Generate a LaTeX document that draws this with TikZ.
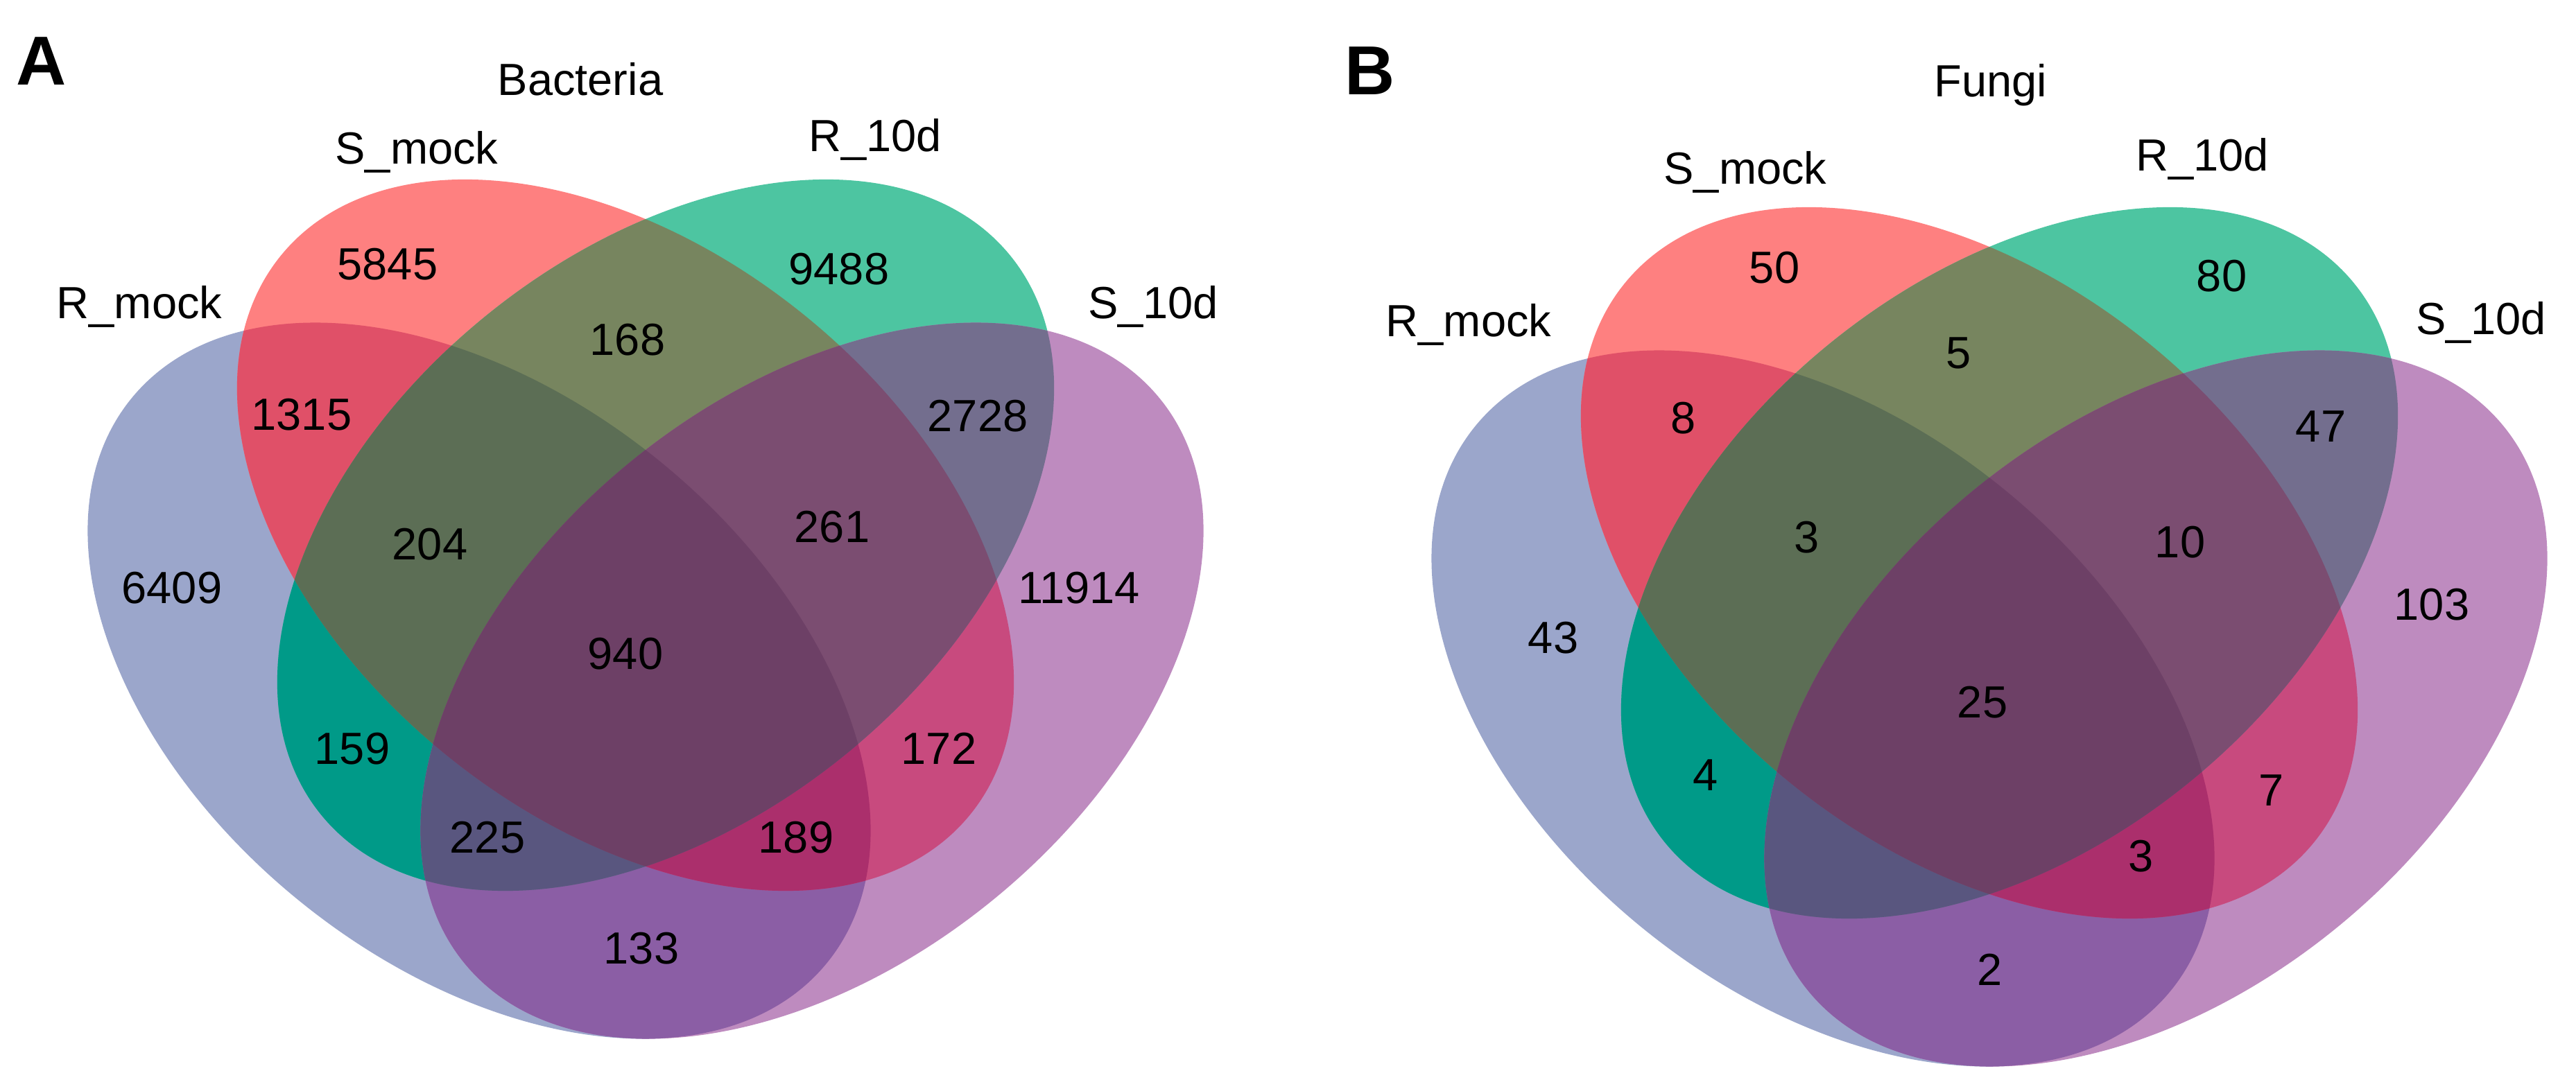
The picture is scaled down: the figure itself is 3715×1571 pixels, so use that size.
\documentclass[tikz,border=0pt]{standalone}
\usepackage{fontspec}
\setmainfont{Liberation Sans}
\definecolor{cB}{HTML}{9BA6CB}
\definecolor{cR}{HTML}{FE8080}
\definecolor{cG}{HTML}{4DC5A1}
\definecolor{cP}{HTML}{BE8BBF}
\definecolor{cBR}{HTML}{E05068}
\definecolor{cBG}{HTML}{009A88}
\definecolor{cBP}{HTML}{8B5EA5}
\definecolor{cRG}{HTML}{77855F}
\definecolor{cRP}{HTML}{C84A7E}
\definecolor{cGP}{HTML}{736E8E}
\definecolor{cBRG}{HTML}{5C6E55}
\definecolor{cBRP}{HTML}{AB2F6C}
\definecolor{cBGP}{HTML}{59567F}
\definecolor{cRGP}{HTML}{7B4D71}
\definecolor{cAll}{HTML}{6D4066}
\newcommand\vennregions{%
  \fill[cB] \EB; \fill[cR] \ER; \fill[cG] \EG; \fill[cP] \EP;
  \begin{scope}\clip \EB; \fill[cBR] \ER; \end{scope}
  \begin{scope}\clip \EB; \fill[cBG] \EG; \end{scope}
  \begin{scope}\clip \EB; \fill[cBP] \EP; \end{scope}
  \begin{scope}\clip \ER; \fill[cRG] \EG; \end{scope}
  \begin{scope}\clip \ER; \fill[cRP] \EP; \end{scope}
  \begin{scope}\clip \EG; \fill[cGP] \EP; \end{scope}
  \begin{scope}\clip \EB; \clip \ER; \fill[cBRG] \EG; \end{scope}
  \begin{scope}\clip \EB; \clip \ER; \fill[cBRP] \EP; \end{scope}
  \begin{scope}\clip \EB; \clip \EG; \fill[cBGP] \EP; \end{scope}
  \begin{scope}\clip \ER; \clip \EG; \fill[cRGP] \EP; \end{scope}
  \begin{scope}\clip \EB; \clip \ER; \clip \EG; \fill[cAll] \EP; \end{scope}%
}
\begin{document}
\begin{tikzpicture}[x=0.2pt, y=-0.2pt,
  num/.style={font=\fontsize{13pt}{15pt}\selectfont, inner sep=0pt, anchor=center},
  lab/.style={font=\fontsize{13pt}{15pt}\selectfont, inner sep=0pt, anchor=base},
  panel/.style={font=\fontsize{20pt}{22pt}\selectfont\bfseries, inner sep=0pt, anchor=base west}]
\useasboundingbox (0,0) rectangle (3715,1571);
% ---------- Panel A ----------
\def\EB{(691,982) circle[x radius=129.2pt, y radius=82pt, rotate=-39]}
\def\EP{(1171,982) circle[x radius=129.2pt, y radius=82pt, rotate=39]}
\def\ER{(902,772) circle[x radius=128pt, y radius=81.8pt, rotate=-39]}
\def\EG{(960,772) circle[x radius=128pt, y radius=81.8pt, rotate=39]}
\vennregions
\node[panel] (pA) at (22,123) {A};
\node[lab] (tA) at (837,138) {Bacteria};
\node[lab] (lA1) at (201,459) {R\_mock};
\node[lab] (lA2) at (601,237) {S\_mock};
\node[lab] (lA3) at (1262,219) {R\_10d};
\node[lab] (lA4) at (1663,459) {S\_10d};
\node[num] (a1) at (559,381) {5845};
\node[num] (a2) at (1210,388) {9488};
\node[num] (a3) at (905,490) {168};
\node[num] (a4) at (435,598) {1315};
\node[num] (a5) at (1410,600) {2728};
\node[num] (a6) at (620,785) {204};
\node[num] (a7) at (1200,760) {261};
\node[num] (a8) at (248,848) {6409};
\node[num] (a9) at (1556,848) {11914};
\node[num] (a10) at (902,943) {940};
\node[num] (a11) at (508,1080) {159};
\node[num] (a12) at (1354,1080) {172};
\node[num] (a13) at (703,1208) {225};
\node[num] (a14) at (1148,1208) {189};
\node[num] (a15) at (925,1368) {133};
% ---------- Panel B ----------
\def\EB{(2629,1022) circle[x radius=129.2pt, y radius=82pt, rotate=-39]}
\def\EP{(3109,1022) circle[x radius=129.2pt, y radius=82pt, rotate=39]}
\def\ER{(2840,812) circle[x radius=128pt, y radius=81.8pt, rotate=-39]}
\def\EG{(2898,812) circle[x radius=128pt, y radius=81.8pt, rotate=39]}
\vennregions
\node[panel] (pB) at (1938,137) {B};
\node[lab] (tB) at (2871,140) {Fungi};
\node[lab] (lB1) at (2118,485) {R\_mock};
\node[lab] (lB2) at (2517,265) {S\_mock};
\node[lab] (lB3) at (3176,247) {R\_10d};
\node[lab] (lB4) at (3578,482) {S\_10d};
\node[num] (b1) at (2559,386) {50};
\node[num] (b2) at (3204,398) {80};
\node[num] (b3) at (2825,509) {5};
\node[num] (b4) at (2428,603) {8};
\node[num] (b5) at (3347,615) {47};
\node[num] (b6) at (2606,775) {3};
\node[num] (b7) at (3144,782) {10};
\node[num] (b8) at (2240,920) {43};
\node[num] (b9) at (3507,872) {103};
\node[num] (b10) at (2859,1013) {25};
\node[num] (b11) at (2460,1118) {4};
\node[num] (b12) at (3276,1140) {7};
\node[num] (b13) at (3088,1235) {3};
\node[num] (b14) at (2870,1399) {2};
\end{tikzpicture}
\end{document}
